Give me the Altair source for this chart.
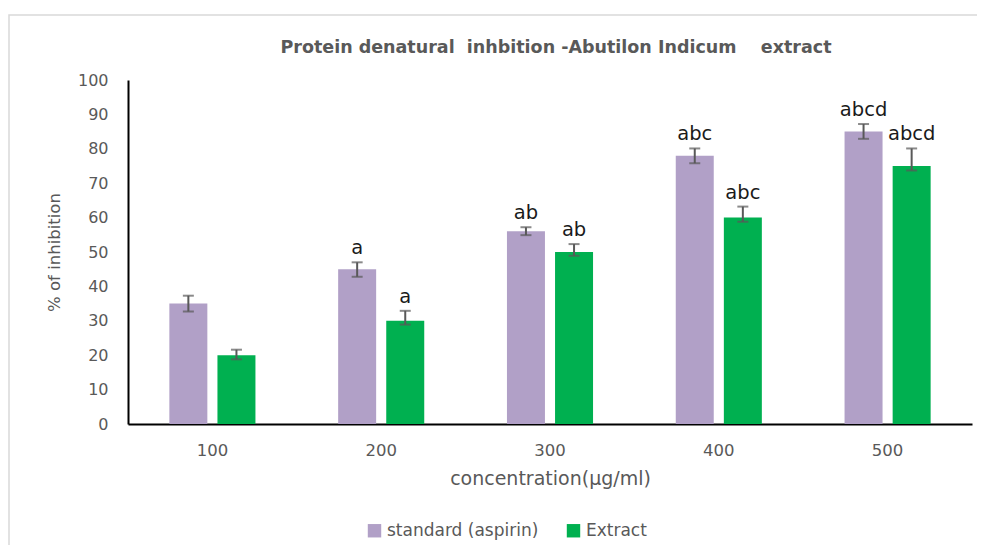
import altair as alt
import pandas as pd

concentrations = ["100", "200", "300", "400", "500"]
series_names = ["standard (aspirin)", "Extract"]
standard_values = [35, 45, 56, 78, 85]
standard_lower = [32.7, 42.8, 54.9, 75.8, 82.9]
standard_upper = [37.3, 47.0, 57.2, 80.1, 87.2]
standard_labels = ["", "a", "ab", "abc", "abcd"]
extract_values = [20, 30, 50, 60, 75]
extract_lower = [18.8, 28.9, 48.9, 58.8, 73.7]
extract_upper = [21.6, 32.9, 52.3, 63.2, 80.1]
extract_labels = ["", "a", "ab", "abc", "abcd"]
y_ticks = [0, 10, 20, 30, 40, 50, 60, 70, 80, 90, 100]
title_text = "Protein denatural\u00a0\u00a0inhbition -Abutilon Indicum\u00a0\u00a0\u00a0\u00a0extract"

rows = []
for i, c in enumerate(concentrations):
    rows.append(dict(conc=c, series=series_names[0], value=standard_values[i],
                     lo=standard_lower[i], hi=standard_upper[i], label=standard_labels[i]))
    rows.append(dict(conc=c, series=series_names[1], value=extract_values[i],
                     lo=extract_lower[i], hi=extract_upper[i], label=extract_labels[i]))
df = pd.DataFrame(rows)

FONT = "DejaVu Sans"
GREY = "#595959"

x_scale = alt.Scale(paddingInner=0.49, paddingOuter=0.245)
x_axis = alt.Axis(title="concentration(µg/ml)", labelAngle=0, ticks=False,
                  domainColor="black", domainWidth=2, labelPadding=18,
                  labelFontSize=16.5, labelColor=GREY, labelFont=FONT,
                  titleFontSize=19, titleColor=GREY, titleFont=FONT,
                  titleFontWeight="normal", titlePadding=11)
y_scale = alt.Scale(domain=[0, 100], nice=False)
y_axis = alt.Axis(title="% of inhibition", values=y_ticks,
                  grid=False, ticks=False, domainColor="black", domainWidth=2,
                  labelOverlap=False, labelPadding=20, labelFontSize=16,
                  labelColor=GREY, labelFont=FONT,
                  titleFontSize=16.5, titleColor=GREY, titleFont=FONT,
                  titleFontWeight="normal", titlePadding=15)

x_enc = alt.X("conc:N", sort=concentrations, scale=x_scale, axis=x_axis)
xoff = alt.XOffset("series:N", sort=series_names,
                   scale=alt.Scale(paddingInner=0.21, paddingOuter=0))

def y_enc(field):
    return alt.Y(field, scale=y_scale, axis=y_axis)

bars = alt.Chart(df).mark_bar().encode(
    x=x_enc,
    xOffset=xoff,
    y=y_enc("value:Q"),
    color=alt.Color("series:N", sort=series_names,
                    scale=alt.Scale(domain=series_names, range=["#B1A0C7", "#00B050"]),
                    legend=alt.Legend(title=None, orient="none", legendX=238, legendY=442,
                                      direction="horizontal", symbolType="square",
                                      symbolSize=180, symbolStrokeWidth=0,
                                      labelFontSize=17, labelColor=GREY, labelFont=FONT,
                                      columnPadding=26, labelLimit=300)),
)

rules = alt.Chart(df).mark_rule(color=GREY, strokeWidth=2).encode(
    x=x_enc, xOffset=xoff, y=y_enc("lo:Q"), y2="hi:Q")

cap_lo = alt.Chart(df).mark_tick(color=GREY, thickness=2, size=11, orient="horizontal").encode(
    x=x_enc, xOffset=xoff, y=y_enc("lo:Q"))
cap_hi = alt.Chart(df).mark_tick(color=GREY, thickness=2, size=11, orient="horizontal").encode(
    x=x_enc, xOffset=xoff, y=y_enc("hi:Q"))

labels = alt.Chart(df).mark_text(baseline="bottom", dy=-4, fontSize=19.5, font=FONT,
                                 color="#1a1a1a").encode(
    x=x_enc, xOffset=xoff, y=y_enc("hi:Q"), text="label:N")

frame = alt.Chart(pd.DataFrame({"f": [0]})).mark_rect(
    fill=None, stroke="#d9d9d9", strokeWidth=1.5).encode(
    x=alt.value(-119), x2=alt.value(900), y=alt.value(-65), y2=alt.value(500))

title = alt.Chart(pd.DataFrame({"t": [title_text]})).mark_text(
    fontSize=17.5, fontWeight="bold", color=GREY, font=FONT, baseline="middle",
    align="center").encode(x=alt.value(428), y=alt.value(-32), text="t:N")

chart = alt.layer(frame, bars, rules, cap_lo, cap_hi, labels, title).properties(
    width=844, height=344,
    padding={"left": 120, "top": 72, "right": 5, "bottom": 121},
    autosize="none",
).configure_view(stroke=None)

chart.save("out.html", embed_options={"renderer": "svg", "actions": False})
